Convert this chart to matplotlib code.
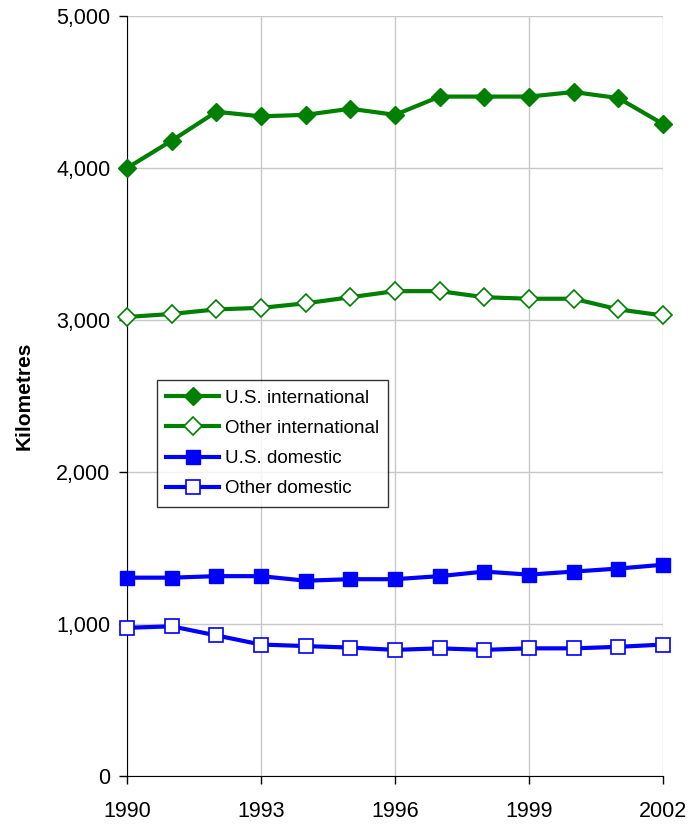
import matplotlib.pyplot as plt
from matplotlib.ticker import FuncFormatter

plt.rcParams['font.family'] = ['Liberation Sans', 'DejaVu Sans']

years = list(range(1990, 2003))
us_international = [4000, 4180, 4370, 4340, 4350, 4390, 4350, 4470, 4470, 4470, 4500, 4460, 4290]
other_international = [3020, 3040, 3070, 3080, 3110, 3150, 3190, 3190, 3150, 3140, 3140, 3070, 3030]
us_domestic = [1305, 1305, 1315, 1315, 1285, 1295, 1295, 1315, 1345, 1325, 1345, 1365, 1390]
other_domestic = [975, 985, 925, 865, 855, 845, 830, 840, 830, 840, 840, 850, 865]

fig = plt.figure(figsize=(6.91, 8.26), dpi=100)
ax = fig.add_axes([0.1838, 0.0605, 0.7757, 0.9201])

green = '#008000'
blue = '#0000FF'

ax.plot(years, us_international, color=green, lw=3, marker='D', ms=9,
        mfc=green, mec=green, label='U.S. international', zorder=3, clip_on=False)
ax.plot(years, other_international, color=green, lw=3, marker='D', ms=9,
        mfc='white', mec=green, mew=1.2, label='Other international', zorder=3, clip_on=False)
ax.plot(years, us_domestic, color=blue, lw=3, marker='s', ms=9.5,
        mfc=blue, mec=blue, label='U.S. domestic', zorder=3, clip_on=False)
ax.plot(years, other_domestic, color=blue, lw=3, marker='s', ms=9.5,
        mfc='white', mec=blue, mew=1.2, label='Other domestic', zorder=3, clip_on=False)

ax.set_xlim(1990, 2002)
ax.set_ylim(0, 5000)
ax.set_xticks(range(1990, 2003, 3))
ax.set_yticks(range(0, 5001, 1000))
ax.yaxis.set_major_formatter(FuncFormatter(lambda v, p: f'{int(v):,}'))
ax.tick_params(labelsize=15.5, length=6, width=1, direction='out', pad=6)
ax.tick_params(axis='x', pad=12)

ax.grid(True, color='#c8c8c8', lw=1)
ax.set_axisbelow(True)
ax.spines['top'].set_visible(False)
ax.spines['right'].set_visible(False)

ax.set_ylabel('Kilometres', fontsize=15, fontweight='bold')
ax.yaxis.set_label_coords(-0.175, 0.5)

leg = ax.legend(loc='upper left', bbox_to_anchor=(0.056, 0.521), borderaxespad=0,
                fontsize=13.5, frameon=True, fancybox=False, edgecolor='black',
                handlelength=2.8, handletextpad=0.3, labelspacing=0.7,
                borderpad=0.5)
leg.get_frame().set_linewidth(1)

fig.savefig('out.png', dpi=100)
